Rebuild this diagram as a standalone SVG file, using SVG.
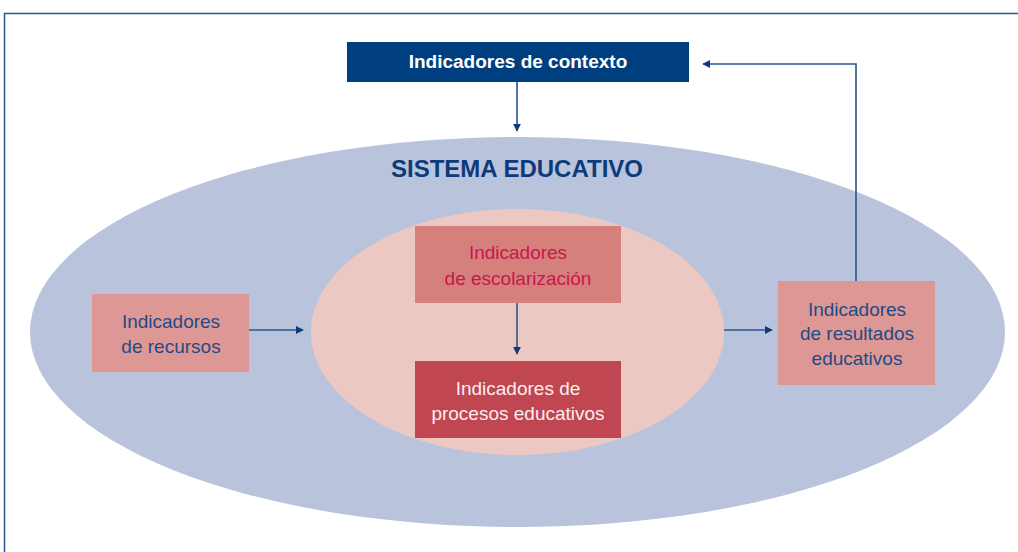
<svg xmlns="http://www.w3.org/2000/svg" width="1018" height="552" viewBox="0 0 1018 552">
<defs>
<style>
.t{font-family:"Liberation Sans",Arial,sans-serif;font-size:19px;text-anchor:middle}
.c{stroke:#2b558e;stroke-width:1.6;fill:none}
</style>
<marker id="ah" viewBox="0 0 10 10" refX="9" refY="5" markerWidth="8" markerHeight="8" markerUnits="userSpaceOnUse" orient="auto">
<path d="M0,0 L10,5 L0,10 z" fill="#0d3b7a"/>
</marker>
</defs>
<rect width="1018" height="552" fill="#ffffff"/>
<path d="M4.5,552 V13.5 H1018" fill="none" stroke="#2b558e" stroke-width="1.5"/>
<g id="sistema">
<ellipse cx="517.5" cy="332" rx="487.5" ry="195" fill="#bac3dc"/>
<text x="517" y="177" class="t" style="font-size:24px;font-weight:bold;fill:#0d3b7a">SISTEMA EDUCATIVO</text>
</g>
<g id="nucleo">
<ellipse cx="517.5" cy="332" rx="206.5" ry="123" fill="#ecc8c3"/>
</g>
<g id="contexto">
<rect x="347" y="42" width="342" height="40" fill="#003f7f"/>
<text x="518" y="68" class="t" style="font-weight:bold;fill:#ffffff">Indicadores de contexto</text>
</g>
<g id="escolarizacion">
<rect x="415" y="226" width="206" height="77" fill="#d6807e"/>
<text x="518" y="259" class="t" style="fill:#c8174a">Indicadores</text>
<text x="518" y="285" class="t" style="fill:#c8174a">de escolarización</text>
</g>
<g id="procesos">
<rect x="415" y="361" width="206" height="77" fill="#c04752"/>
<text x="518" y="395" class="t" style="fill:#fbeeee">Indicadores de</text>
<text x="518" y="420" class="t" style="fill:#fbeeee">procesos educativos</text>
</g>
<g id="recursos">
<rect x="92" y="294" width="157" height="78" fill="#dd9895"/>
<text x="171" y="328" class="t" style="fill:#1f4a85">Indicadores</text>
<text x="171" y="353" class="t" style="fill:#1f4a85">de recursos</text>
</g>
<g id="resultados">
<rect x="778" y="281" width="157" height="104" fill="#dd9895"/>
<text x="857" y="316" class="t" style="fill:#1f4a85">Indicadores</text>
<text x="857" y="340" class="t" style="fill:#1f4a85">de resultados</text>
<text x="857" y="365" class="t" style="fill:#1f4a85">educativos</text>
</g>
<g id="connectors">
<path class="c" d="M517,82 V131" marker-end="url(#ah)"/>
<path class="c" d="M517,303 V354" marker-end="url(#ah)"/>
<path class="c" d="M249,330 H303" marker-end="url(#ah)"/>
<path class="c" d="M724,330 H772" marker-end="url(#ah)"/>
<path class="c" d="M856,281 V64 H703" marker-end="url(#ah)"/>
</g>
</svg>
